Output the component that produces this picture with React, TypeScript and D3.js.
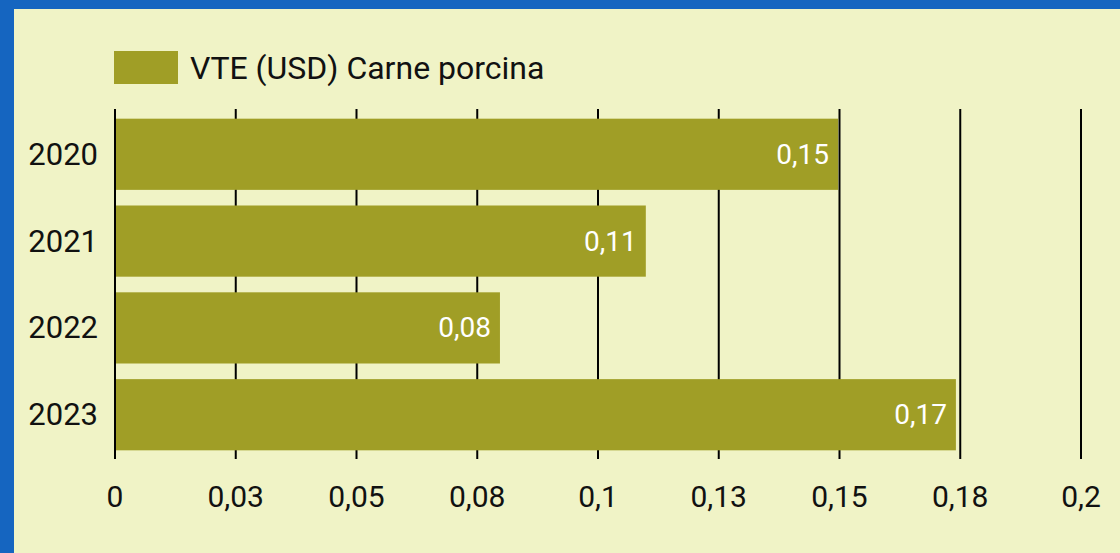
import React from "react";
import * as d3 from "d3";

const years = ["2020", "2021", "2022", "2023"];
const values = [0.1497, 0.1099, 0.0797, 0.1741];
const tickValues = [0, 0.025, 0.05, 0.075, 0.1, 0.125, 0.15, 0.175, 0.2];
const tickLabels = ["0", "0,03", "0,05", "0,08", "0,1", "0,13", "0,15", "0,18", "0,2"];
const seriesName = "VTE (USD) Carne porcina";

const W = 1120;
const H = 553;
const BG = "#F0F3C6";
const BAR = "#A09E26";
const BLUE = "#1565C0";
const FONT = "Roboto, 'Noto Sans', sans-serif";

export default function App() {
  const x = d3.scaleLinear().domain([0, 0.2]).range([115, 1081]);
  const y = d3
    .scaleBand<string>()
    .domain(years)
    .range([110, 459])
    .paddingInner(0.18)
    .paddingOuter(0.1);
  const fmt = (v: number) => v.toFixed(2).replace(".", ",");
  const gridTop = 109;
  const gridBottom = 459;

  return (
    <svg
      width={W}
      height={H}
      style={{ position: "absolute", left: 0, top: 0, display: "block" }}
      fontFamily={FONT}
    >
      <rect x={0} y={0} width={W} height={H} fill={BG} />
      <rect x={0} y={0} width={W} height={9} fill={BLUE} />
      <rect x={0} y={0} width={14} height={H} fill={BLUE} />

      {/* legend */}
      <rect x={114} y={51} width={64} height={33} fill={BAR} />
      <text x={190} y={67.5} dominantBaseline="central" fontSize={32} fill="#111">
        {seriesName}
      </text>

      {/* gridlines */}
      {tickValues.map((t) => (
        <line
          key={t}
          x1={x(t)}
          x2={x(t)}
          y1={gridTop}
          y2={gridBottom}
          stroke="#000"
          strokeWidth={2}
        />
      ))}

      {/* bars */}
      {years.map((yr, i) => (
        <g key={yr}>
          <rect
            x={x(0) + 1}
            y={y(yr)!}
            width={x(values[i]) - x(0) - 1}
            height={y.bandwidth()}
            fill={BAR}
          />
          <text
            x={x(values[i]) - 9}
            y={y(yr)! + y.bandwidth() / 2}
            textAnchor="end"
            dominantBaseline="central"
            fontSize={28}
            fill="#fff"
          >
            {fmt(values[i])}
          </text>
          <text
            x={98}
            y={y(yr)! + y.bandwidth() / 2}
            textAnchor="end"
            dominantBaseline="central"
            fontSize={31}
            fill="#111"
          >
            {yr}
          </text>
        </g>
      ))}

      {/* x tick labels */}
      {tickValues.map((t, i) => (
        <text
          key={t}
          x={x(t)}
          y={507}
          textAnchor="middle"
          fontSize={30}
          fill="#111"
        >
          {tickLabels[i]}
        </text>
      ))}
    </svg>
  );
}
